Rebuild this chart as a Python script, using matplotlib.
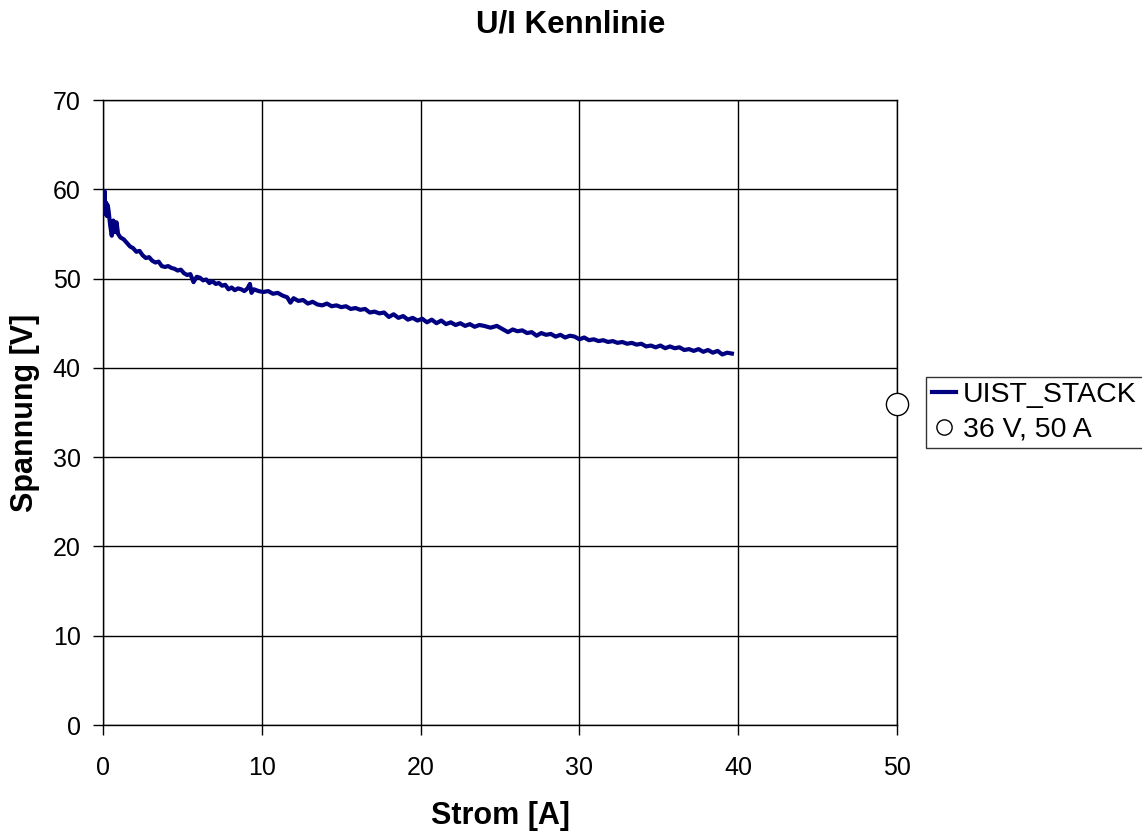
import matplotlib
matplotlib.use("Agg")
import matplotlib.pyplot as plt

plt.rcParams['font.family'] = ['Liberation Sans', 'DejaVu Sans']

# Messreihe: Strom [A] und Stack-Spannung [V]
strom = [0.05, 0.10, 0.15, 0.20, 0.25, 0.30, 0.35, 0.45, 0.55, 0.65, 0.75, 0.85, 0.95,
         1.10, 1.30, 1.50, 1.70, 1.90, 2.10, 2.30, 2.50, 2.70, 2.90, 3.10, 3.30, 3.50,
         3.70, 3.90, 4.10, 4.30, 4.50, 4.70, 4.90, 5.10, 5.30, 5.50, 5.70, 5.90, 6.10,
         6.30, 6.50, 6.70, 6.90, 7.10, 7.30, 7.50, 7.70, 7.90, 8.10, 8.30, 8.50, 8.70,
         8.90, 9.10, 9.25, 9.35, 9.50, 9.80, 10.1, 10.4, 10.7, 11.0, 11.3, 11.6, 11.8,
         12.0, 12.3, 12.6, 12.9, 13.2, 13.5, 13.8, 14.1, 14.4, 14.7, 15.0, 15.3, 15.6,
         15.9, 16.2, 16.5, 16.8, 17.1, 17.4, 17.7, 18.0, 18.3, 18.6, 18.9, 19.2, 19.5,
         19.8, 20.1, 20.4, 20.7, 21.0, 21.3, 21.6, 21.9, 22.2, 22.5, 22.8, 23.1, 23.4,
         23.7, 24.0, 24.4, 24.8, 25.2, 25.5, 25.8, 26.1, 26.4, 26.7, 27.0, 27.3, 27.6,
         27.9, 28.2, 28.5, 28.8, 29.1, 29.4, 29.7, 30.0, 30.3, 30.6, 30.9, 31.2, 31.5,
         31.8, 32.1, 32.4, 32.7, 33.0, 33.3, 33.6, 33.9, 34.2, 34.5, 34.8, 35.1, 35.4,
         35.7, 36.0, 36.3, 36.6, 36.9, 37.2, 37.5, 37.8, 38.1, 38.4, 38.7, 39.0, 39.3,
         39.6]
spannung = [57.5, 59.8, 57.2, 58.5, 57.0, 58.2, 57.6, 56.0, 54.8, 56.5, 55.2, 56.3, 55.0,
            54.6, 54.4, 54.0, 53.6, 53.4, 53.0, 53.1, 52.6, 52.3, 52.4, 52.0, 51.8, 51.9,
            51.4, 51.3, 51.4, 51.2, 51.1, 50.9, 51.0, 50.6, 50.4, 50.5, 49.6, 50.2, 50.1,
            49.8, 49.9, 49.5, 49.7, 49.4, 49.5, 49.2, 49.3, 48.8, 49.0, 48.7, 48.9, 48.8,
            48.6, 48.9, 49.4, 48.4, 48.8, 48.6, 48.5, 48.6, 48.3, 48.4, 48.1, 47.9, 47.3,
            47.8, 47.5, 47.6, 47.2, 47.4, 47.1, 47.0, 47.2, 46.9, 47.0, 46.8, 46.9, 46.6,
            46.7, 46.5, 46.6, 46.2, 46.3, 46.1, 46.2, 45.7, 46.0, 45.6, 45.8, 45.4, 45.6,
            45.3, 45.5, 45.1, 45.4, 45.0, 45.3, 44.9, 45.1, 44.8, 45.0, 44.7, 44.9, 44.6,
            44.8, 44.7, 44.5, 44.7, 44.3, 44.0, 44.3, 44.1, 44.2, 43.9, 44.0, 43.6, 43.9,
            43.7, 43.8, 43.5, 43.7, 43.4, 43.6, 43.5, 43.2, 43.4, 43.1, 43.2, 43.0, 43.1,
            42.9, 43.0, 42.8, 42.9, 42.7, 42.8, 42.6, 42.7, 42.4, 42.5, 42.3, 42.5, 42.2,
            42.4, 42.2, 42.3, 42.0, 42.1, 41.9, 42.1, 41.8, 42.0, 41.7, 41.9, 41.5, 41.7,
            41.6]

# Betriebspunkt
punkt_strom = [50]
punkt_spannung = [36]

fig = plt.figure(figsize=(11.42, 8.32), dpi=100)
ax = fig.add_axes([0.0902, 0.1286, 0.6953, 0.7512])

ax.plot(strom, spannung, color='#000080', lw=3.0, label='UIST_STACK', zorder=3)
ax.plot(punkt_strom, punkt_spannung, 'o', ms=16, mfc='white', mec='black', mew=1.0,
        clip_on=False, zorder=4, label='36 V, 50 A')

ax.set_xlim(0, 50)
ax.set_ylim(0, 70)
ax.set_xticks(range(0, 51, 10))
ax.set_yticks(range(0, 71, 10))
ax.grid(True, color='black', lw=1.0)
for s in ax.spines.values():
    s.set_color('black')
    s.set_linewidth(1.0)
ax.tick_params(direction='out', length=7, width=1, labelsize=18)
ax.tick_params(axis='x', pad=15)
ax.tick_params(axis='y', pad=9)

# x-Beschriftung fest unten platziert
fig.text(0.438, 0.019, 'Strom [A]', ha='center', va='center', fontsize=22, fontweight='bold')
ax.set_ylabel('Spannung [V]', fontsize=22, fontweight='bold', labelpad=9)
fig.suptitle('U/I Kennlinie', fontsize=22.5, fontweight='bold', y=0.988)

h, l = ax.get_legend_handles_labels()
h[1] = plt.Line2D([], [], marker='o', ls='', ms=11, mfc='white', mec='black', mew=1.0)
leg = fig.legend(h, l, loc='lower left', bbox_to_anchor=(0.811, 0.461), fontsize=20.5,
                 frameon=True, fancybox=False, edgecolor='black', handlelength=0.85,
                 handletextpad=0.25, borderpad=0.2, borderaxespad=0,
                 labelspacing=0.3)
leg.get_frame().set_linewidth(1.0)

fig.savefig('out.png', dpi=100)
